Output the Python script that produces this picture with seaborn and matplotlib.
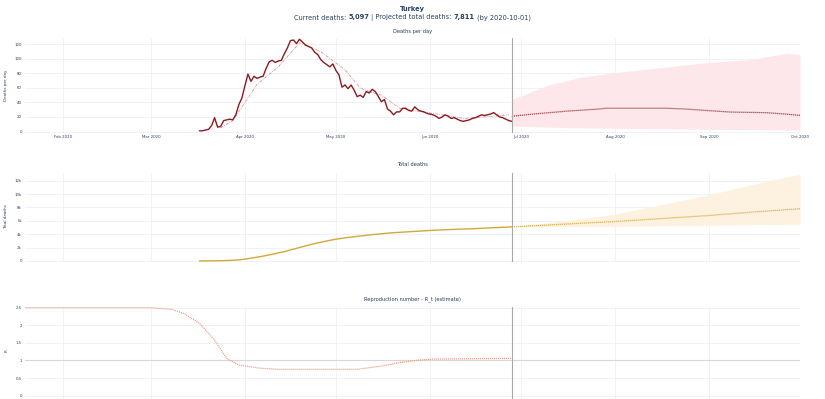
import pandas as pd
import seaborn as sns
import matplotlib.pyplot as plt
import matplotlib.dates as mdates
import matplotlib.ticker as ticker

# --- settings ---
sns.set_theme(style="white")
plt.rcParams['font.family'] = ['DejaVu Sans']
TXT = '#2a3f5f'
GRID = '#eef0f4'

# --- data ---
obs_start = "2020-03-17"
last_day = "2020-06-28"
daily_deaths = [1, 1, 2, 3, 8, 19, 6, 7, 15, 16, 17, 16, 23, 37, 46,
                63, 79, 69, 76, 73, 75, 76, 87, 96, 98, 95, 97, 98, 107, 115,
                125, 126, 121, 127, 123, 119, 117, 115, 109, 106, 99, 95, 92, 89, 93,
                84, 78, 61, 64, 59, 64, 57, 48, 50, 47, 55, 53, 58, 55, 48, 41,
                44, 31, 28, 23, 27, 27, 32, 32, 29, 28, 34, 30, 28, 27, 25,
                24, 23, 21, 18, 20, 23, 21, 18, 19, 17, 15, 14, 15, 16,
                18, 19, 21, 23, 22, 23, 24, 26, 23, 20, 19, 17, 15, 14]

smooth_dates = ["2020-03-24", "2020-03-28", "2020-04-01", "2020-04-05", "2020-04-12",
                "2020-04-19", "2020-04-26", "2020-05-04", "2020-05-09", "2020-05-12",
                "2020-05-16", "2020-05-22", "2020-05-28", "2020-06-05", "2020-06-12",
                "2020-06-19", "2020-06-27"]
smooth_deaths = [5, 15, 40, 65, 89, 122, 110, 85, 60, 55, 50, 32, 28, 23, 18, 20, 23]

fc_dates = ["2020-06-28", "2020-07-05", "2020-07-16", "2020-07-27", "2020-07-29",
            "2020-08-18", "2020-08-24", "2020-09-01", "2020-09-08", "2020-09-20",
            "2020-09-26", "2020-10-01"]
fc_deaths = [21, 24, 28, 31, 32, 32, 31, 28.7, 26.8, 25.9, 24.1, 22.2]

band_dates = ["2020-06-28", "2020-07-10", "2020-07-21", "2020-08-01", "2020-08-12",
              "2020-08-24", "2020-09-01", "2020-09-15", "2020-09-20", "2020-09-27",
              "2020-10-01"]
band_low = [7.6, 6, 5, 4.4, 4, 3.5, 3, 2.6, 2.4, 2.1, 2]
band_high = [44, 64, 75, 81, 86, 91.5, 95, 99, 103, 107.6, 105.7]

total_dates = ["2020-03-17", "2020-03-24", "2020-03-28", "2020-03-31", "2020-04-03",
               "2020-04-07", "2020-04-10", "2020-04-14", "2020-04-17", "2020-04-21",
               "2020-04-24", "2020-04-28", "2020-05-01", "2020-05-05", "2020-05-12",
               "2020-05-19", "2020-05-26", "2020-06-02", "2020-06-09", "2020-06-16",
               "2020-06-23", "2020-06-28"]
total_deaths = [1, 44, 108, 214, 425, 725, 1006, 1403, 1769, 2259, 2600, 2992, 3258,
                3520, 3894, 4199, 4397, 4588, 4728, 4842, 4995, 5097]

tfc_dates = ["2020-06-28", "2020-07-15", "2020-08-01", "2020-08-15", "2020-09-01",
             "2020-09-15", "2020-10-01"]
tfc_median = [5097, 5500, 5900, 6300, 6800, 7300, 7811]
tfc_low = [5097, 5150, 5200, 5270, 5350, 5420, 5500]
tfc_high = [5097, 6000, 7000, 8300, 9900, 11400, 13000]

r_dates = ["2020-01-19", "2020-03-01", "2020-03-08", "2020-03-12", "2020-03-17",
           "2020-03-22", "2020-03-26", "2020-03-30", "2020-04-06", "2020-04-12",
           "2020-05-08", "2020-05-16", "2020-05-22", "2020-05-28", "2020-06-02",
           "2020-06-28"]
r_values = [2.5, 2.5, 2.45, 2.33, 2.06, 1.58, 1.06, 0.87, 0.78, 0.75, 0.75, 0.84,
            0.94, 1.01, 1.04, 1.06]

obs = pd.DataFrame({'date': pd.date_range(obs_start, periods=len(daily_deaths)),
                    'deaths': daily_deaths})
smooth = pd.DataFrame({'date': pd.to_datetime(smooth_dates), 'deaths': smooth_deaths})
fc = pd.DataFrame({'date': pd.to_datetime(fc_dates), 'deaths': fc_deaths})
band = pd.DataFrame({'date': pd.to_datetime(band_dates), 'low': band_low, 'high': band_high})
total = pd.DataFrame({'date': pd.to_datetime(total_dates), 'deaths': total_deaths})
tfc = pd.DataFrame({'date': pd.to_datetime(tfc_dates), 'median': tfc_median,
                    'low': tfc_low, 'high': tfc_high})
rt = pd.DataFrame({'date': pd.to_datetime(r_dates), 'R': r_values})

# --- figure ---
W, H = 825, 399
fig = plt.figure(figsize=(W / 100, H / 100), dpi=100)


def px_axes(top, bottom, left=25, right=800):
    return fig.add_axes([left / W, 1 - bottom / H, (right - left) / W, (bottom - top) / H])


ax1 = px_axes(38, 133)
ax2 = px_axes(173, 262)
ax3 = px_axes(307, 399)

x0, x1 = pd.Timestamp("2020-01-19 12:00"), pd.Timestamp("2020-10-01")
vline = pd.Timestamp(last_day)
dots = (0, (0.8, 0.8))

# 1. deaths per day
ax1.fill_between(band['date'], band['low'], band['high'], color='#fde7ea', lw=0, zorder=1)
sns.lineplot(data=smooth, x='date', y='deaths', ax=ax1, color='#dc8a90', lw=0.55,
             linestyle=(0, (4, 1.5, 1, 1.5)), zorder=3)
sns.lineplot(data=obs, x='date', y='deaths', ax=ax1, color='#8b1a1f', lw=1.0, zorder=4)
sns.lineplot(data=fc, x='date', y='deaths', ax=ax1, color='#8b1a1f', lw=0.9,
             linestyle=dots, zorder=4)
ax1.set_ylim(-2.06, 128.7)
ax1.yaxis.set_major_locator(ticker.MultipleLocator(20))

# 2. total deaths
ax2.fill_between(tfc['date'], tfc['low'], tfc['high'], color='#fdf1df', lw=0, zorder=1)
sns.lineplot(data=total, x='date', y='deaths', ax=ax2, color='#d4a838', lw=1.0, zorder=4)
sns.lineplot(data=tfc, x='date', y='median', ax=ax2, color='#cfa333', lw=0.9,
             linestyle=dots, zorder=4)
ax2.set_ylim(-150, 13150)
ax2.yaxis.set_major_locator(ticker.MultipleLocator(2000))
ax2.yaxis.set_major_formatter(ticker.FuncFormatter(
    lambda v, p: '0' if v == 0 else '{:.0f}k'.format(v / 1000)))

# 3. reproduction number
ax3.axhline(1, color='#d8d8d8', lw=0.8, zorder=2)
sns.lineplot(data=rt, x='date', y='R', ax=ax3, color='#e8967a', lw=0.9,
             linestyle=dots, zorder=4)
ax3.set_ylim(-0.094, 2.52)
ax3.yaxis.set_major_locator(ticker.MultipleLocator(0.5))
ax3.yaxis.set_major_formatter(ticker.FuncFormatter(lambda v, p: '{:g}'.format(v)))

for ax in (ax1, ax2, ax3):
    ax.set_xlim(x0, x1)
    ax.axvline(vline, color='#a8a8a8', lw=0.8, zorder=5)
    ax.xaxis.set_major_locator(mdates.MonthLocator())
    ax.xaxis.set_major_formatter(mdates.DateFormatter('%b %Y'))
    ax.grid(True, color=GRID, lw=0.6)
    ax.set_axisbelow(True)
    ax.tick_params(axis='both', length=0, labelsize=2.8, colors=TXT)
    ax.tick_params(axis='y', pad=2.2)
    ax.tick_params(axis='x', pad=1.5)
    ax.set_xlabel('')
    ax.set_ylabel('')
    sns.despine(ax=ax, left=True, bottom=True)

for ax in (ax2, ax3):
    ax.tick_params(axis='x', labelbottom=False)

# y-axis titles
fig.text(6 / W, 1 - 85 / H, 'Deaths per day', rotation=90, ha='center', va='center',
         fontsize=3.0, color=TXT)
fig.text(6 / W, 1 - 217 / H, 'Total deaths', rotation=90, ha='center', va='center',
         fontsize=3.0, color=TXT)
fig.text(7 / W, 1 - 351 / H, 'R', rotation=90, ha='center', va='center',
         fontsize=3.0, color=TXT)

# subplot titles
cx = 412.5 / W
fig.text(cx, 1 - 31 / H, 'Deaths per day', ha='center', va='center', fontsize=3.7, color=TXT)
fig.text(cx, 1 - 165 / H, 'Total deaths', ha='center', va='center', fontsize=3.7, color=TXT)
fig.text(cx, 1 - 299 / H, 'Reproduction number - R_t (estimate)', ha='center', va='center',
         fontsize=3.7, color=TXT)

# main title
fig.text(cx, 1 - 9 / H, 'Turkey', ha='center', va='center', fontsize=4.8,
         fontweight='bold', color=TXT)

# subtitle with bold numbers: lay the pieces side by side
sub_fs = 4.8
parts = [('Current deaths:', 'normal'), ('5,097', 'bold'),
         ('| Projected total deaths:', 'normal'), ('7,811', 'bold'),
         ('(by 2020-10-01)', 'normal')]
renderer = fig.canvas.get_renderer()


def text_w(s, weight='normal'):
    t = fig.text(0, 0, s, fontsize=sub_fs, fontweight=weight)
    w = t.get_window_extent(renderer).width
    t.remove()
    return w


space = text_w('x x') - text_w('xx')
widths = [text_w(s, w) for s, w in parts]
x = 412.5 - (sum(widths) + space * (len(parts) - 1)) / 2
for (s, w), wd in zip(parts, widths):
    fig.text(x / W, 1 - 17.5 / H, s, ha='left', va='center', fontsize=sub_fs,
             fontweight=w, color=TXT)
    x += wd + space

plt.savefig('out.png', dpi=100)
